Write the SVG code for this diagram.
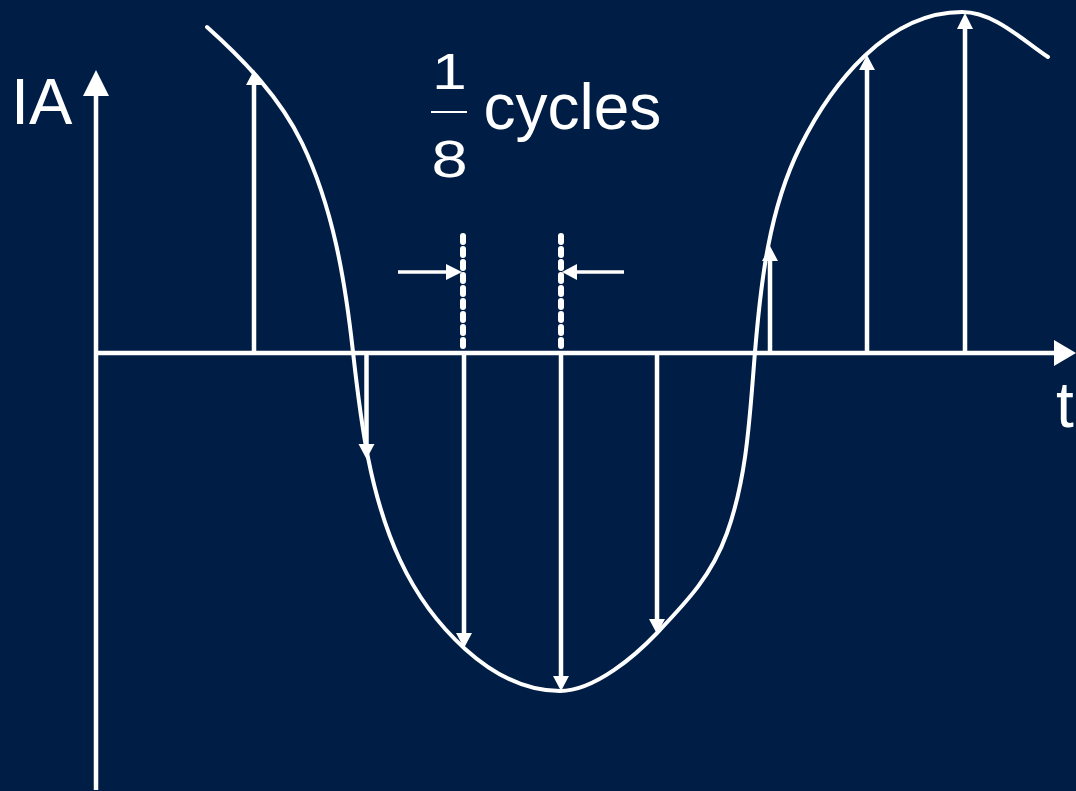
<svg xmlns="http://www.w3.org/2000/svg" width="1076" height="791" viewBox="0 0 1076 791">
<style>
.ln{stroke:#fff;fill:none}
.ax{stroke-width:4.5}
.st{stroke-width:4.5}
.hd{fill:#fff}
.tx{fill:#fff;font-family:"Liberation Sans",Arial,sans-serif}
.dot{stroke:#fff;stroke-width:6;stroke-dasharray:6 7;stroke-linecap:round;fill:none}
</style>
<rect width="1076" height="791" fill="#001E45"/>
<g id="axes">
<line class="ln ax" x1="96" y1="790" x2="96" y2="94"/>
<polygon class="hd" points="83,96 96,70 109,96"/>
<line class="ln ax" x1="94" y1="353" x2="1056" y2="353"/>
<polygon class="hd" points="1054,340 1076,353 1054,366"/>
</g>
<g id="curve">
<path class="ln" stroke-width="4" stroke-linecap="round" d="M207,27 C244.3,60.4 280.3,97.9 302,143 C333.2,207.9 345.1,280.4 353,352 C360.8,422.6 370,495.7 400,560 C429.2,622.5 491,691 560,691 C595,691 636.3,654.8 657,633 C688,600.4 711.8,575.3 727,533 C747.6,475.6 749.9,412.8 755,352 C760.8,282.2 768.9,209.7 800,147 C831.1,84.3 887,12 962,12 C994,12 1021.4,39.2 1048,57"/>
</g>
<g id="projections">
<g id="p1"><line class="ln st" x1="254" y1="353" x2="254" y2="84"/><polygon class="hd" points="246,85 254,70 262,85"/></g>
<g id="p2"><line class="ln st" x1="366.5" y1="353" x2="366.5" y2="445"/><polygon class="hd" points="358.5,444 366.5,459 374.5,444"/></g>
<g id="p3"><line class="ln st" x1="464" y1="353" x2="464" y2="634"/><polygon class="hd" points="456,633 464,648 472,633"/></g>
<g id="p4"><line class="ln st" x1="561" y1="353" x2="561" y2="677"/><polygon class="hd" points="553,676 561,691 569,676"/></g>
<g id="p5"><line class="ln st" x1="657" y1="353" x2="657" y2="620"/><polygon class="hd" points="649,619 657,634 665,619"/></g>
<g id="p6"><line class="ln st" x1="770" y1="353" x2="770" y2="260"/><polygon class="hd" points="762,261 770,246 778,261"/></g>
<g id="p7"><line class="ln st" x1="867" y1="353" x2="867" y2="69"/><polygon class="hd" points="859,70 867,55 875,70"/></g>
<g id="p8"><line class="ln st" x1="965" y1="353" x2="965" y2="28"/><polygon class="hd" points="957,29 965,13 973,29"/></g>
</g>
<g id="interval">
<line class="dot" x1="463" y1="236" x2="463" y2="350"/>
<line class="dot" x1="561" y1="236" x2="561" y2="350"/>
<line class="ln" stroke-width="3.5" x1="398" y1="272" x2="448" y2="272"/>
<polygon class="hd" points="446,264 462,272 446,280"/>
<line class="ln" stroke-width="3.5" x1="624" y1="272" x2="575" y2="272"/>
<polygon class="hd" points="577,264 562,272 577,280"/>
</g>
<g id="labels">
<text class="tx" x="11" y="124" font-size="65">IA</text>
<text class="tx" x="1056" y="427" font-size="64">t</text>
<text class="tx" x="483.5" y="129" font-size="64">cycles</text>
<g transform="translate(449.5,0) scale(1.25,1)">
<text class="tx" x="0" y="89" font-size="50" text-anchor="middle">1</text>
<text class="tx" x="0" y="177.5" font-size="52" text-anchor="middle">8</text>
</g>
<line stroke="#fff" stroke-width="2" x1="431" y1="112" x2="467" y2="112"/>
</g>
</svg>
